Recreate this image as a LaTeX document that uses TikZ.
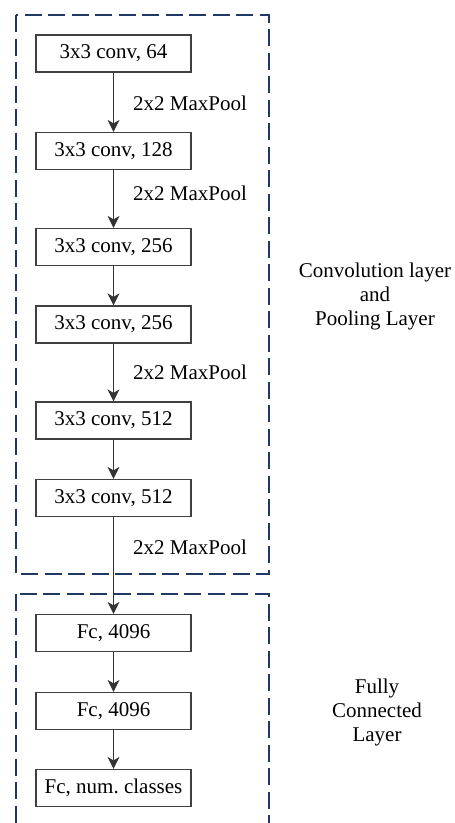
\documentclass[tikz,border=0pt]{standalone}
\usepackage{fontspec}
\setmainfont{Liberation Serif}
\usetikzlibrary{arrows.meta}
\definecolor{navy}{HTML}{1F3864}
\begin{document}
\frenchspacing
\begin{tikzpicture}[x=1bp,y=-1bp,
  font=\rmfamily\fontsize{21bp}{24bp}\selectfont,
  layerbox/.style={draw=black!75, line width=1.2bp, minimum width=155bp, minimum height=37bp, inner sep=0pt, fill=white},
  flow/.style={draw=black!80, line width=1.2bp, -{Stealth[length=12bp,width=12bp,inset=3.5bp]}},
  group/.style={draw=navy, line width=2.2bp, dash pattern=on 17bp off 6.5bp},
  poollabel/.style={anchor=west, inner sep=0pt},
  sidelabel/.style={align=center, inner sep=0pt}]
\useasboundingbox (0,0) rectangle (455,823);
\clip (0,0) rectangle (455,823);
\draw[group] (16,15) rectangle (269,574);
\draw[group] (16,594) rectangle (269,845);

\node[layerbox] (c1) at (113.5,53.5) {3x3 conv, 64};
\node[layerbox] (c2) at (113.5,151) {3x3 conv, 128};
\node[layerbox] (c3) at (113.5,247) {3x3 conv, 256};
\node[layerbox] (c4) at (113.5,324.5) {3x3 conv, 256};
\node[layerbox] (c5) at (113.5,420.5) {3x3 conv, 512};
\node[layerbox] (c6) at (113.5,498) {3x3 conv, 512};
\node[layerbox] (f1) at (113.5,633) {Fc, 4096};
\node[layerbox] (f2) at (113.5,711) {Fc, 4096};
\node[layerbox] (f3) at (113.5,788) {Fc, num.\ classes};

\draw[flow] (c1) -- (c2);
\draw[flow] (c2) -- (c3);
\draw[flow] (c3) -- (c4);
\draw[flow] (c4) -- (c5);
\draw[flow] (c5) -- (c6);
\draw[flow] (c6) -- (f1);
\draw[flow] (f1) -- (f2);
\draw[flow] (f2) -- (f3);

\node[poollabel] (p1) at (133,103) {2x2 MaxPool};
\node[poollabel] (p2) at (133,193) {2x2 MaxPool};
\node[poollabel] (p3) at (133,372) {2x2 MaxPool};
\node[poollabel] (p4) at (133,547) {2x2 MaxPool};

\node[sidelabel] (convlabel) at (375,296) {Convolution layer\\and\\Pooling Layer};
\node[sidelabel] (fclabel) at (377,712) {Fully\\Connected\\Layer};
\end{tikzpicture}
\end{document}
